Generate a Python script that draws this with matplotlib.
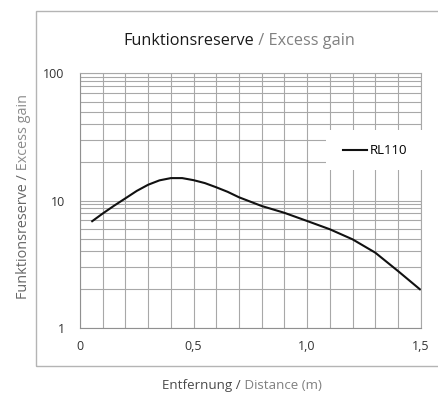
import matplotlib
matplotlib.use("Agg")
import matplotlib.pyplot as plt
from matplotlib.patches import Rectangle
from matplotlib.lines import Line2D
from matplotlib.ticker import FixedLocator, NullFormatter, FixedFormatter

# ---------------- data ----------------
distance_m = [0.05, 0.10, 0.15, 0.20, 0.25, 0.30, 0.35, 0.40, 0.45, 0.50, 0.55,
              0.60, 0.65, 0.70, 0.80, 0.90, 1.00, 1.10, 1.20, 1.30, 1.40, 1.50]
excess_gain = [6.8, 7.9, 9.1, 10.4, 11.9, 13.3, 14.4, 15.0, 15.0, 14.45, 13.7,
               12.7, 11.7, 10.6, 9.05, 8.0, 6.9, 5.94, 4.95, 3.89, 2.79, 1.98]
series_name = "RL110"
x_ticks = [0, 0.5, 1.0, 1.5]
x_tick_labels = ["0", "0,5", "1,0", "1,5"]
y_ticks = [1, 10, 100]
y_tick_labels = ["1", "10", "100"]
title_parts = [("Funktionsreserve", "#1a1a1a"), (" / Excess gain", "#808080")]
xlabel_parts = [("Entfernung /", "#4a4a4a"), (" Distance (m)", "#808080")]
ylabel_parts = [("Funktionsreserve /", "#666666"), (" Excess gain", "#8c8c8c")]

FONT = ["Open Sans", "DejaVu Sans"]
W, H = 439, 394
fig = plt.figure(figsize=(W / 100, H / 100), dpi=100)


def fx(x):
    return x / W


def fy(y):
    return 1 - y / H


# outer frame
fig.add_artist(Rectangle((fx(36), fy(365.5)), fx(W + 10) - fx(36), fy(10.7) - fy(365.5),
                         transform=fig.transFigure, facecolor="none",
                         edgecolor="#b4b4b4", linewidth=1.0, zorder=0))

ax = fig.add_axes([fx(80), fy(327.7), fx(420.7) - fx(80), fy(73.3) - fy(327.7)])
ax.set_yscale("log")
ax.set_xlim(0, 1.5)
ax.set_ylim(1, 100)

grid_c = "#a8a8a8"
ax.xaxis.set_major_locator(FixedLocator(x_ticks))
ax.xaxis.set_major_formatter(FixedFormatter(x_tick_labels))
ax.xaxis.set_minor_locator(FixedLocator([i / 10 for i in range(16)]))
ax.yaxis.set_major_locator(FixedLocator(y_ticks))
ax.yaxis.set_major_formatter(FixedFormatter(y_tick_labels))
minor_y = []
for dec in (1, 10):
    for m in (2, 3, 4, 5, 6, 7, 8, 8.75, 9.42):
        minor_y.append(dec * m)
ax.yaxis.set_minor_locator(FixedLocator(minor_y))
ax.yaxis.set_minor_formatter(NullFormatter())
ax.xaxis.set_minor_formatter(NullFormatter())
ax.grid(True, which="both", color=grid_c, linewidth=0.8)
ax.set_axisbelow(True)
ax.tick_params(which="both", length=0)
ax.tick_params(axis="y", pad=11, labelsize=9, labelcolor="#333333")
ax.tick_params(axis="x", pad=9, labelsize=9, labelcolor="#333333")
for lab in ax.get_xticklabels() + ax.get_yticklabels():
    lab.set_family(FONT)
for s in ("left", "bottom", "top", "right"):
    ax.spines[s].set_color(grid_c)
    ax.spines[s].set_linewidth(0.8)
ax.spines["left"].set_color("#909090")
ax.spines["bottom"].set_color("#909090")

ax.plot(distance_m, excess_gain, color="#111111", linewidth=1.5,
        solid_capstyle="butt", solid_joinstyle="round", label=series_name)

# legend background box (covers grid)
fig.add_artist(Rectangle((fx(326), fy(170)), fx(424) - fx(326), fy(130) - fy(170),
                         transform=fig.transFigure, facecolor="white",
                         edgecolor="none", zorder=5))
leg = fig.legend(handles=[Line2D([], [], color="#111111", linewidth=1.5)],
                 labels=[series_name], loc="center left",
                 bbox_to_anchor=(fx(343), fy(151)), frameon=False,
                 handlelength=1.85, handletextpad=0.2, borderpad=0, borderaxespad=0,
                 prop={"family": FONT, "size": 9.5})
leg.set_zorder(6)

renderer = fig.canvas.get_renderer()


def rich(parts, target_len, center, baseline, vertical=False):
    arts = [fig.text(0, 0, s, color=c, fontsize=10, family=FONT, ha="left",
                     va="baseline", rotation_mode="anchor") for s, c in parts]
    widths = [a.get_window_extent(renderer).width for a in arts]
    scale = target_len / sum(widths)
    for a in arts:
        a.set_fontsize(10 * scale)
    widths = [a.get_window_extent(renderer).width for a in arts]
    total = sum(widths)
    pos = center - total / 2
    for a, w in zip(arts, widths):
        if vertical:
            a.set_rotation(90)
            a.set_position((fx(baseline), fy(2 * center - pos)))
        else:
            a.set_position((fx(pos), fy(baseline)))
        pos += w


rich(title_parts, 231, 238.8, 45)
rich(xlabel_parts, 159, 242, 389)
rich(ylabel_parts, 205, 196.5, 27, vertical=True)

fig.savefig("out.png", dpi=100)
